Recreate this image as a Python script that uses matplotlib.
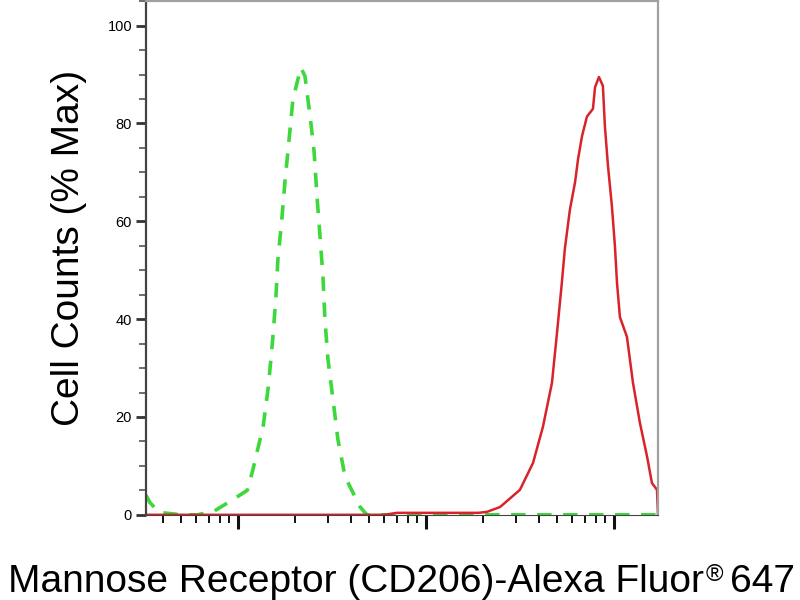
import matplotlib
matplotlib.use("Agg")
import matplotlib.pyplot as plt
from matplotlib.ticker import LogLocator, NullFormatter, MultipleLocator

plt.rcParams['font.family'] = ['Liberation Sans', 'DejaVu Sans']

# isotype control (green, dashed)
ctrl_x = [3.24, 3.4, 3.8, 5.0, 6.1, 7.5, 9.3, 11.2, 12.0, 12.6, 13.6, 14.5, 15.3, 15.9,
          16.3, 17.1, 17.8, 18.7, 19.6, 21.6, 22.7, 24.2, 25.4, 26.3, 27.3, 28.3,
          29.0, 30.1, 32.0, 34.0, 37.1, 44.6, 48.5, 100, 1000, 1715]
ctrl_y = [4.0, 2.5, 0.5, 0.0, 0.0, 0.8, 3.0, 5.0, 9.2, 12.7, 18.0, 26.2, 35.9, 44.4,
          52.2, 60.4, 68.4, 76.8, 85.0, 91.4, 89.7, 81.4, 74.2, 65.2, 57.0, 48.8,
          39.9, 31.8, 23.6, 15.4, 7.8, 1.6, 0.0, 0.0, 0.0, 0.0]

# CD206 stained (red, solid)
cd206_x = [3.24, 60, 70, 190, 211, 248, 316, 371, 419, 468, 498, 528, 548, 583, 621,
           644, 676, 718, 773, 793, 832, 873, 895, 929, 975, 1012, 1038, 1076,
           1172, 1262, 1374, 1500, 1592, 1694, 1715]
cd206_y = [0.0, 0.0, 0.4, 0.4, 0.6, 1.6, 5.1, 10.6, 18.0, 27.0, 37.3, 47.4, 54.4,
           62.4, 68.0, 72.7, 77.4, 81.4, 83.0, 87.4, 89.5, 87.7, 79.4, 71.4, 63.1,
           54.9, 47.4, 40.4, 36.4, 27.0, 18.8, 11.9, 6.5, 5.1, 0.0]

W, H = 800, 600
fig = plt.figure(figsize=(8, 6), dpi=100)
ax = fig.add_axes([0.1825, 0.142, 0.64, 0.856])

ax.plot(ctrl_x, ctrl_y, color="#3cd83c", linewidth=2.6, dashes=(4, 3.2))
ax.plot(cd206_x, cd206_y, color="#d8232a", linewidth=1.8)

ax.set_xscale("log")
ax.set_xlim(3.24, 1715)
ax.set_ylim(0, 105)

ax.xaxis.set_major_locator(LogLocator(base=10, numticks=10))
ax.xaxis.set_minor_locator(LogLocator(base=10, subs=range(2, 10), numticks=20))
ax.xaxis.set_major_formatter(NullFormatter())
ax.xaxis.set_minor_formatter(NullFormatter())
ax.tick_params(axis="x", which="major", length=10, width=2.2, direction="out", color="#111111")
ax.tick_params(axis="x", which="minor", length=6, width=1.4, direction="out", color="#111111")

ax.yaxis.set_major_locator(MultipleLocator(20))
ax.yaxis.set_minor_locator(MultipleLocator(5))
ax.tick_params(axis="y", which="major", length=7, width=2.0, direction="out",
               labelsize=10.5, pad=3, color="#333333")
ax.tick_params(axis="y", which="minor", length=5, width=1.2, direction="out", color="#555555")

for side in ["top", "right"]:
    ax.spines[side].set_color("#a0a0a0")
    ax.spines[side].set_linewidth(1.6)
ax.spines["left"].set_color("#444444")
ax.spines["left"].set_linewidth(1.6)
ax.spines["bottom"].set_color("#444444")

# y label
fig.text(69 / W, 1 - 248 / H, "Cell Counts (% Max)", fontsize=28, rotation=90,
         ha="center", va="center")

# x label, built in pieces so the ® can be raised
base_y = 1 - 592 / H
t1 = fig.text(8 / W, base_y, "Mannose Receptor (CD206)-Alexa Fluor", fontsize=28,
              ha="left", va="baseline")
fig.canvas.draw()
r = fig.canvas.get_renderer()
x1 = t1.get_window_extent(r).x1
t2 = fig.text((x1 + 2) / W, base_y + 11 / H, "®", fontsize=17, ha="left", va="baseline")
fig.canvas.draw()
x2 = t2.get_window_extent(r).x1
fig.text((x2 + 7) / W, base_y, "647", fontsize=28, ha="left", va="baseline")

fig.savefig("out.png", dpi=100)
